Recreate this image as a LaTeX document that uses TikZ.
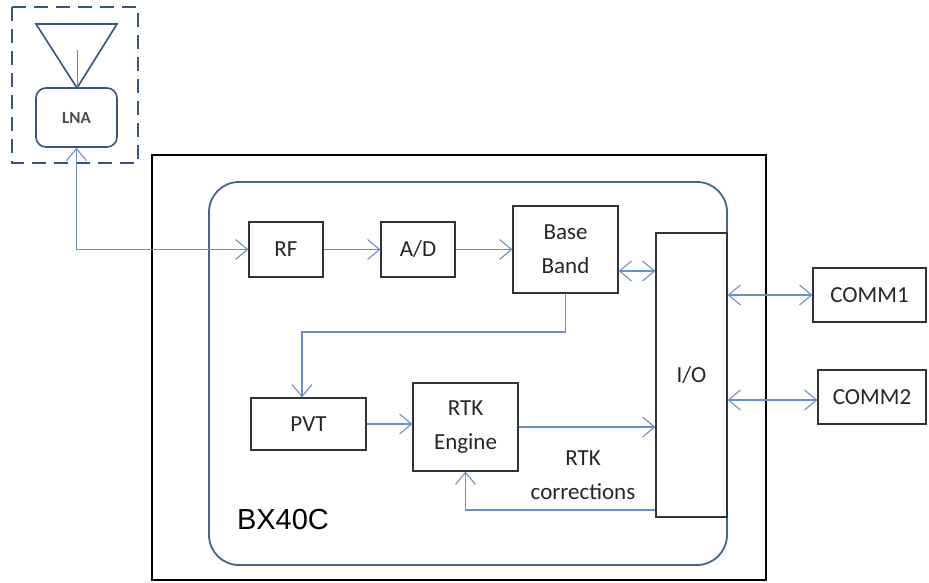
\documentclass[tikz,border=0pt]{standalone}
\usepackage{fontspec}
\setmainfont{Carlito}
\newfontfamily\arialfont{Liberation Sans}
\usetikzlibrary{arrows.meta}
\definecolor{linkblue}{RGB}{105,145,200}
\definecolor{frameblue}{RGB}{70,100,140}
\definecolor{antblue}{RGB}{55,85,125}
\tikzset{
  blk/.style={draw=black!80,line width=1.2pt,fill=white,font=\fontsize{23}{34}\selectfont,text=black!85,align=center,inner sep=0pt},
  link/.style={draw=linkblue,line width=1.3pt},
}
\begin{document}
\begin{tikzpicture}[x=1pt,y=-1pt,>={Straight Barb[length=12pt,width=20pt,line width=1.1pt]}]
      \useasboundingbox (0,0) rectangle (929,583);

      % antenna
      \draw[antblue,line width=1.6pt,dash pattern=on 14pt off 8pt] (12,7) rectangle (138,163);
      \draw[antblue,line width=1.6pt] (36,24) -- (117,24) -- (77,88) -- cycle;
      \draw[antblue!70,line width=1pt] (77,50) -- (77,88);
      \node (lna) at (76.5,117.5) [draw=antblue,line width=1.6pt,rounded corners=10pt,minimum width=81pt,minimum height=59pt,inner sep=0pt,font=\fontsize{17}{19}\selectfont\bfseries,text=black!70] {LNA};

      % receiver
      \draw[black,line width=1.8pt] (152,155) rectangle (766,580);
      \draw[frameblue,line width=1.8pt,rounded corners=30pt] (209,182) rectangle (727,565);
      \node at (283,520) [font=\arialfont\fontsize{29}{32}\selectfont] {BX40C};

      \begin{scope}[every node/.style={blk}]
        \node (rf)  at (286,249.5)   [minimum width=74pt,minimum height=55pt]  {RF};
        \node (ad)  at (418,249.5)   [minimum width=74pt,minimum height=55pt]  {A/D};
        \node (bb)  at (565.5,249.5) [minimum width=105pt,minimum height=87pt] {Base\\Band};
        \node (io)  at (691.5,375)   [minimum width=71pt,minimum height=284pt] {I/O};
        \node (pvt) at (308.5,424)   [minimum width=115pt,minimum height=52pt] {PVT};
        \node (rtk) at (465.5,427)   [minimum width=105pt,minimum height=88pt] {RTK\\Engine};
        \node (c1)  at (869.5,295)   [minimum width=113pt,minimum height=54pt] {COMM1};
        \node (c2)  at (872,397)     [minimum width=108pt,minimum height=54pt] {COMM2};
      \end{scope}

      \node (corr) at (583,475) [font=\fontsize{23}{34}\selectfont,text=black!85,align=center] {RTK\\corrections};

      \coordinate (bend) at (302,332);

      \begin{scope}[every edge/.style={link}]
        \path (rf.east)  edge[->] (ad.west);
        \path (ad.east)  edge[->] (bb.west);
        \path ([yshift=-21.5pt]bb.east) edge[<->] ([yshift=-21.5pt]bb.east -| io.west);
        \path (pvt.east) edge[->] (pvt.east -| rtk.west);
        \path (rtk.east) edge[->] (rtk.east -| io.west);
        \path (c1.west -| io.east) edge[<->] (c1.west);
        \path ([yshift=-3pt]c2.west -| io.east) edge[<->] ([yshift=-3pt]c2.west);
      \end{scope}

      \draw[link,<->] (lna.south) |- (rf.west);
      \draw[link,->] (bb.south) |- (bend) -- (bend |- pvt.north);
      \draw[link,->] ([yshift=-135pt]io.west) -| (rtk.south);

    \end{tikzpicture}
\end{document}
